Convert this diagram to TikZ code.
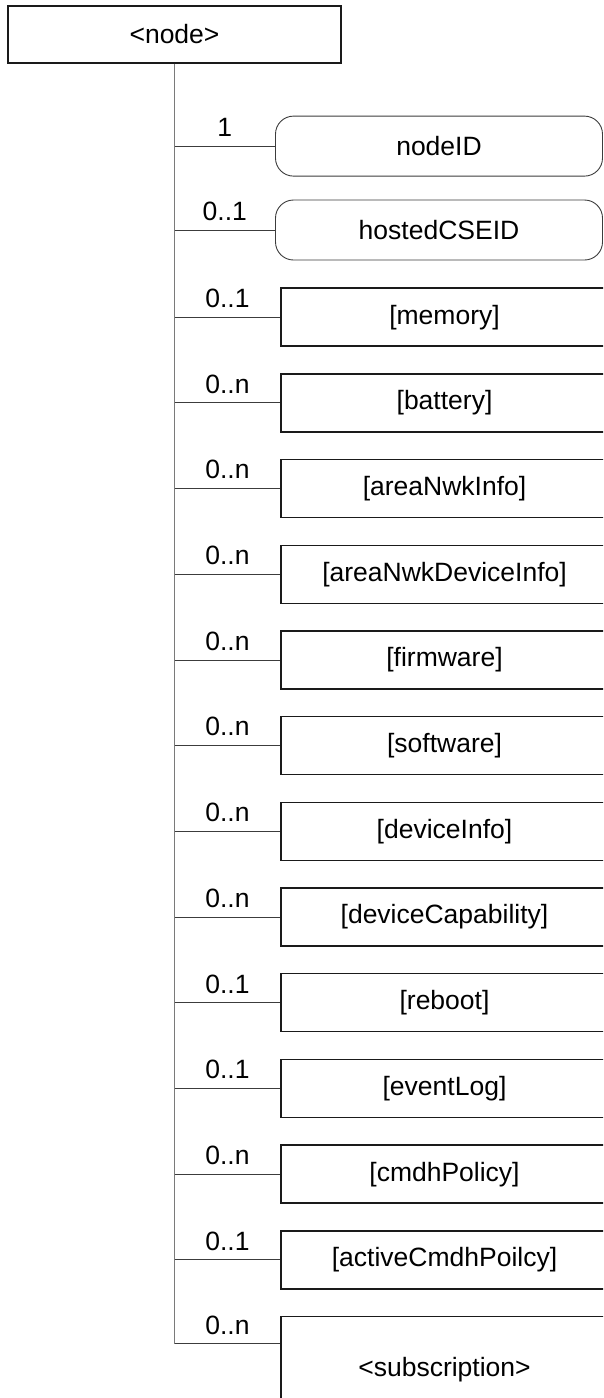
\documentclass[tikz,border=0pt]{standalone}
\usepackage{fontspec}
\setmainfont{Liberation Sans}
\usepackage{tikz}
\usetikzlibrary{positioning}
\definecolor{edge}{HTML}{1A1A1A}
\definecolor{stem}{HTML}{7A7A7A}
\newcommand{\boxfont}{\fontsize{26.5}{30}\selectfont}
\tikzset{
    rootbox/.style={rectangle, draw=edge, line width=1.3pt, minimum width=333pt, minimum height=57pt, font=\boxfont},
    attrbox/.style={rectangle, draw=edge!85, rounded corners=18pt, line width=0.9pt, minimum width=327pt, minimum height=60pt, font=\boxfont},
    resbox/.style={rectangle, draw=edge, line width=1.4pt, minimum width=327pt, minimum height=58pt, font=\boxfont},
    link/.style={draw=edge!85, line width=0.9pt},
    trunk/.style={draw=stem, line width=1.2pt},
    card/.style={above=9pt, inner sep=0pt, font=\boxfont}
}

\begin{document}
\begin{tikzpicture}[x=1pt, y=1pt]

\useasboundingbox (0,0) rectangle (603,-1398);
\clip (0,0) rectangle (603,-1398);

\node[rootbox] (root) at (174.5,-34.5) {<node>};

% attributes
\node[attrbox, below=52pt of root, xshift=264.5pt] (nodeid) {nodeID};
\node[attrbox, below=23pt of nodeid] (hosted) {hostedCSEID};

% child resources
\node[resbox, below=27pt of hosted, xshift=5.5pt] (memory) {[memory]};
\node[resbox, below=26.3pt of memory] (battery) {[battery]};
\node[resbox, below=26.3pt of battery] (nwkinfo) {[areaNwkInfo]};
\node[resbox, below=26.3pt of nwkinfo] (nwkdev) {[areaNwkDeviceInfo]};
\node[resbox, below=26.3pt of nwkdev] (firmware) {[firmware]};
\node[resbox, below=26.3pt of firmware] (software) {[software]};
\node[resbox, below=26.3pt of software] (devinfo) {[deviceInfo]};
\node[resbox, below=26.3pt of devinfo] (devcap) {[deviceCapability]};
\node[resbox, below=26.3pt of devcap] (reboot) {[reboot]};
\node[resbox, below=26.3pt of reboot] (eventlog) {[eventLog]};
\node[resbox, below=26.3pt of eventlog] (cmdh) {[cmdhPolicy]};
\node[resbox, below=26.3pt of cmdh] (activecmdh) {[activeCmdhPoilcy]};
\node[resbox, below=26.3pt of activecmdh, minimum height=106pt] (sub) {<subscription>};
\coordinate (subin) at ([yshift=-28pt]sub.north west);

\draw[trunk] (root.south) -- (root.south |- subin);

\draw[link] (root.south |- nodeid) -- node[card] {1} (nodeid);
\draw[link] (root.south |- hosted) -- node[card] {0..1} (hosted);
\draw[link] (root.south |- memory) -- node[card] {0..1} (memory);
\draw[link] (root.south |- battery) -- node[card] {0..n} (battery);
\draw[link] (root.south |- nwkinfo) -- node[card] {0..n} (nwkinfo);
\draw[link] (root.south |- nwkdev) -- node[card] {0..n} (nwkdev);
\draw[link] (root.south |- firmware) -- node[card] {0..n} (firmware);
\draw[link] (root.south |- software) -- node[card] {0..n} (software);
\draw[link] (root.south |- devinfo) -- node[card] {0..n} (devinfo);
\draw[link] (root.south |- devcap) -- node[card] {0..n} (devcap);
\draw[link] (root.south |- reboot) -- node[card] {0..1} (reboot);
\draw[link] (root.south |- eventlog) -- node[card] {0..1} (eventlog);
\draw[link] (root.south |- cmdh) -- node[card] {0..n} (cmdh);
\draw[link] (root.south |- activecmdh) -- node[card] {0..1} (activecmdh);
\draw[link] (root.south |- subin) -- node[card] {0..n} (subin);

\end{tikzpicture}
\end{document}
